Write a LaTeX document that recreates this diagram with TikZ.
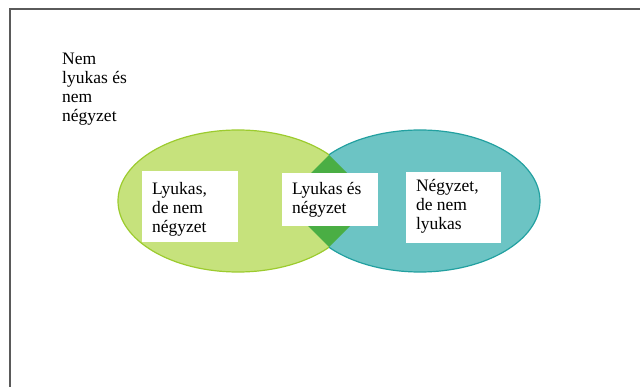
\documentclass[tikz,border=0pt]{standalone}
\usepackage{fontspec}
\setmainfont{Liberation Serif}
\definecolor{limefill}{HTML}{C6E27C}
\definecolor{limeedge}{HTML}{9CCB2E}
\definecolor{tealfill}{HTML}{6CC4C4}
\definecolor{tealedge}{HTML}{22A0A0}
\definecolor{lensgreen}{HTML}{4AAE44}
\definecolor{framegray}{HTML}{5A5A5A}
\tikzset{
  labelbox/.style={fill=white, draw=none, inner sep=0pt},
  labeltext/.style={inner sep=0pt, anchor=north west, align=left,
    font=\fontsize{17.5}{19}\selectfont},
}
\begin{document}
\begin{tikzpicture}[x=1pt,y=-1pt]
\useasboundingbox (0,0) rectangle (640,387);
% frame
\coordinate (fa) at (9.5,387);
\coordinate (fb) at (9.5,9.5);
\coordinate (fc) at (640,9.5);
\draw[framegray, line width=2pt] (fa) -- (fb) -- (fc);
% ellipses
\coordinate (lc) at (238,201);
\coordinate (rc) at (420,201);
\fill[tealfill] (rc) ellipse [x radius=120, y radius=71];
\begin{scope}
  \clip (0,0) rectangle (329,387);
  \fill[limefill] (lc) ellipse [x radius=120, y radius=71];
  \draw[limeedge, line width=1.2pt] (lc) ellipse [x radius=120, y radius=71];
\end{scope}
\begin{scope}
  \clip (329,0) rectangle (640,387);
  \draw[tealedge, line width=1.2pt] (rc) ellipse [x radius=120, y radius=71];
\end{scope}
% central diamond
\coordinate (dt) at (329,155);
\coordinate (dr) at (375,201);
\coordinate (db) at (329,247);
\coordinate (dl) at (283,201);
\fill[lensgreen] (dt) -- (dr) -- (db) -- (dl) -- cycle;
% white boxes
\node[labelbox, minimum width=96pt, minimum height=71pt] (lbox) at (190,206.5) {};
\node[labelbox, minimum width=96pt, minimum height=53pt] (mbox) at (330,199.5) {};
\node[labelbox, minimum width=95pt, minimum height=71pt] (rbox) at (453.5,207.5) {};
% texts
\node[labeltext] (ltext) at ([xshift=10pt,yshift=-11pt]lbox.north west) {Lyukas,\\de nem\\négyzet};
\node[labeltext] (mtext) at ([xshift=10pt,yshift=-9pt]mbox.north west) {Lyukas és\\négyzet};
\node[labeltext] (rtext) at ([xshift=10pt,yshift=-7pt]rbox.north west) {Négyzet,\\de nem\\lyukas};
\node[labeltext] (otext) at (62,53) {Nem\\lyukas és\\nem\\négyzet};
\end{tikzpicture}
\end{document}
